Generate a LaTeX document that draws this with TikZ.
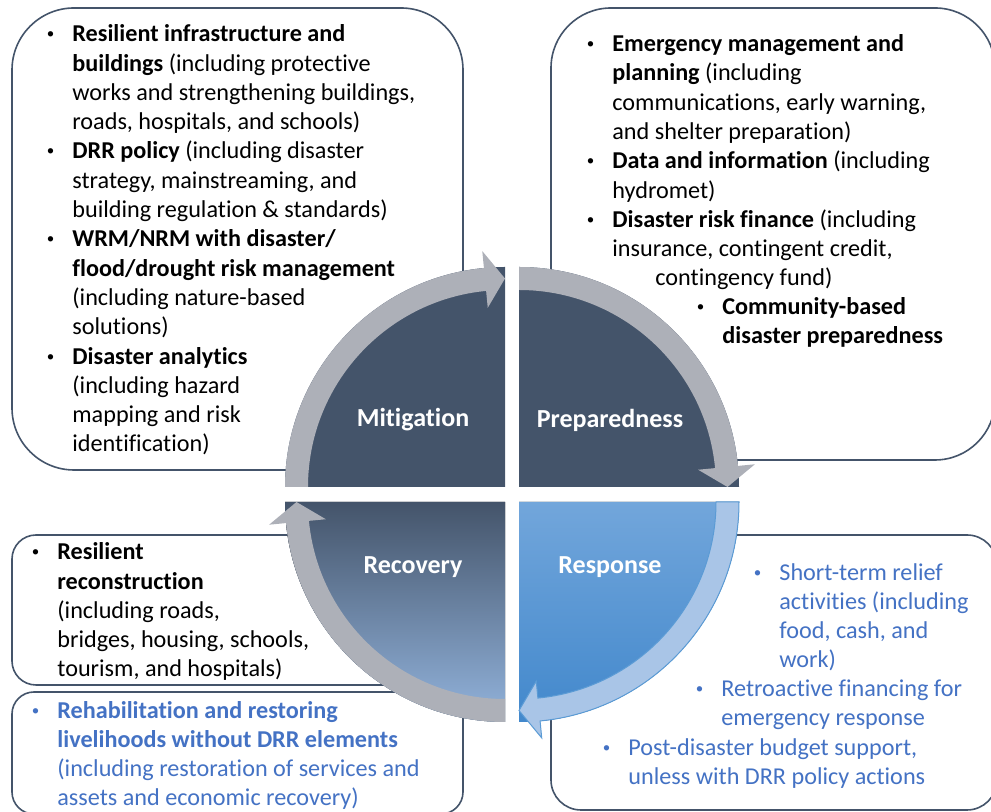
\documentclass[tikz,border=0pt]{standalone}
\usepackage{fontspec}
\setmainfont{Carlito}[Ligatures=NoCommon]
\usetikzlibrary{positioning}

\definecolor{slate}{HTML}{44546A}
\definecolor{ringgray}{HTML}{ADB0B8}
\definecolor{txtblue}{HTML}{4472C4}
\definecolor{respTop}{HTML}{72A6DB}
\definecolor{respBot}{HTML}{4288CC}
\definecolor{respRing}{HTML}{A9C5E7}
\definecolor{respEdge}{HTML}{5B9BD5}
\definecolor{recBot}{HTML}{93B4DD}

\newcommand{\bul}{\llap{\raisebox{1.5pt}{\fontsize{7.5}{7.5}\selectfont •}\hspace{9pt}}}

\begin{document}
\begin{tikzpicture}[x=0.5pt,y=0.5pt]
\tikzstyle{box}=[draw=slate,line width=0.8pt,fill=white]
\tikzstyle{list}=[anchor=base west,inner sep=0pt,align=left,font=\fontsize{12.1}{14.65}\selectfont]
\tikzstyle{phase}=[font=\fontsize{13}{15}\selectfont\bfseries,text=white]
\tikzstyle{band}=[fill=ringgray]
\useasboundingbox (0,0) rectangle (991,812);

% boxes behind the cycle
\draw[box,rounded corners=31pt] (12,342) rectangle (463,804);
\draw[box,rounded corners=30pt] (551,352) rectangle (995,804);
\draw[box,rounded corners=12pt] (12,127) rectangle (463,277);
\draw[box,rounded corners=11pt] (12,-2) rectangle (463,120);
\draw[box,rounded corners=15pt] (551,2) rectangle (997,277);

% mitigation quarter
\begin{scope}[shift={(505,325)}]
\fill[slate] (0,0) -- (180:220) arc[start angle=180,end angle=90,radius=220] -- cycle;
\fill[band] (180:220) arc[start angle=180,end angle=95.5,radius=220] -- (95.5:237) -- (90:208.5)
  -- (95.5:180) -- (95.5:197) arc[start angle=95.5,end angle=180,radius=197] -- cycle;
\end{scope}

% preparedness quarter
\begin{scope}[shift={(519,325)}]
\fill[slate] (0,0) -- (90:220) arc[start angle=90,end angle=0,radius=220] -- cycle;
\fill[band] (90:220) arc[start angle=90,end angle=5.5,radius=220] -- (5.5:237) -- (0:208.5)
  -- (5.5:180) -- (5.5:197) arc[start angle=5.5,end angle=90,radius=197] -- cycle;
\end{scope}

% response quarter
\begin{scope}[shift={(519,310)}]
\fill[top color=respTop,bottom color=respBot] (0,0) -- (0:220) arc[start angle=0,end angle=-90,radius=220] -- cycle;
\filldraw[fill=respRing,draw=respEdge,line width=0.5pt] (0:220) arc[start angle=0,end angle=-84.5,radius=220] -- (-84.5:237) -- (-90:208.5)
  -- (-84.5:180) -- (-84.5:197) arc[start angle=-84.5,end angle=0,radius=197] -- cycle;
\end{scope}

% recovery quarter
\begin{scope}[shift={(505,310)}]
\fill[top color=slate,middle color=slate!88!recBot,bottom color=recBot] (0,0) -- (-90:220) arc[start angle=-90,end angle=-180,radius=220] -- cycle;
\fill[band] (-90:220) arc[start angle=-90,end angle=-174.5,radius=220] -- (-174.5:237) -- (-180:208.5)
  -- (-174.5:180) -- (-174.5:197) arc[start angle=-174.5,end angle=-90,radius=197] -- cycle;
\end{scope}

\node[phase] (mit) at (413,392) {Mitigation};
\node[phase] (prep) at (610,392) {Preparedness};
\node[phase] (rec) at (413,245) {Recovery};
\node[phase] (resp) at (610,245) {Response};

% mitigation list (placed by its last baseline)
\node[list] (mitlist) at (72,360) {\bul\textbf{Resilient infrastructure and}\\
\textbf{buildings} (including protective\\
works and strengthening buildings,\\
roads, hospitals, and schools)\\
\bul\textbf{DRR policy} (including disaster\\
strategy, mainstreaming, and\\
building regulation \& standards)\\
\bul\textbf{WRM/NRM with disaster/}\\
\textbf{flood/drought risk management}\\
(including nature-based\\
solutions)\\
\bul\textbf{Disaster analytics}\\
(including hazard\\
mapping and risk\\
identification)};

% preparedness list
\node[list] (preplist) at (612,526) {\bul\textbf{Emergency management and}\\
\textbf{planning} (including\\
communications, early warning,\\
and shelter preparation)\\
\bul\textbf{Data and information} (including\\
hydromet)\\
\bul\textbf{Disaster risk finance} (including\\
insurance, contingent credit,\\
\hspace*{21.5pt}contingency fund)};
\node[list] (community) at (722,468) {\bul\textbf{Community-based}\\
\textbf{disaster preparedness}};

% recovery lists
\node[list] (reclist) at (57,135) {\bul\textbf{Resilient}\\
\textbf{reconstruction}\\
(including roads,\\
bridges, housing, schools,\\
tourism, and hospitals)};
\node[list,text=txtblue] (rehab) at (57,6) {\bul\textbf{Rehabilitation and restoring}\\
\textbf{livelihoods without DRR elements}\\
(including restoration of services and\\
assets and economic recovery)};

% response lists
\node[list,text=txtblue] (relief) at (779,144) {\bul Short-term relief\\
activities (including\\
food, cash, and\\
work)};
\node[list,text=txtblue] (retro) at (721,86) {\bul Retroactive financing for\\
emergency response};
\node[list,text=txtblue] (budget) at (628,27) {\bul Post-disaster budget support,\\
unless with DRR policy actions};
\end{tikzpicture}
\end{document}
